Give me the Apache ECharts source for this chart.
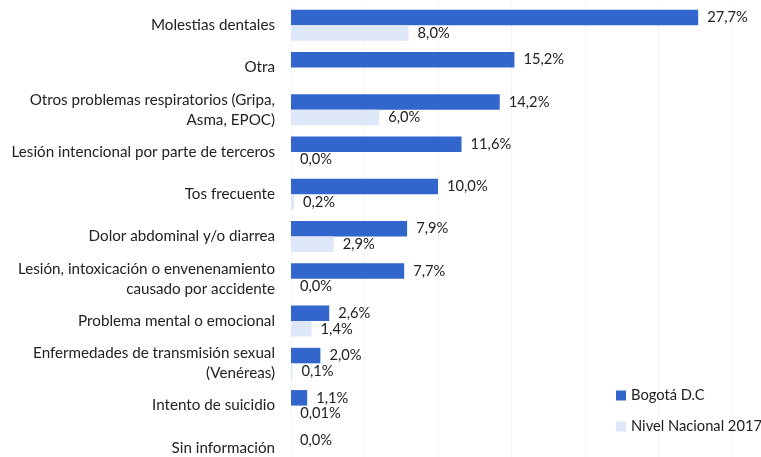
<!DOCTYPE html>
<html><head><meta charset="utf-8">
<script src="https://cdn.jsdelivr.net/npm/echarts@6/dist/echarts.min.js"></script>
<style>html,body{margin:0;padding:0;background:#fff}#c{width:761px;height:457px}</style>
</head><body><div id="c"></div>
<script>
var categories = [
  'Molestias dentales',
  'Otra',
  'Otros problemas respiratorios (Gripa,\nAsma, EPOC)',
  'Lesión intencional por parte de terceros',
  'Tos frecuente',
  'Dolor abdominal y/o diarrea',
  'Lesión, intoxicación o envenenamiento\ncausado por accidente',
  'Problema mental o emocional',
  'Enfermedades de transmisión sexual\n(Venéreas)',
  'Intento de suicidio',
  'Sin información'
];
var bogota = [27.7, 15.2, 14.2, 11.6, 10.0, 7.9, 7.7, 2.6, 2.0, 1.1, 0.0];
var nacional = [8.0, null, 6.0, 0.0, 0.2, 2.9, 0.0, 1.4, 0.1, 0.01, null];
var seriesNames = ['Bogotá D.C', 'Nivel Nacional 2017'];

function fmt(p) {
  var v = p.value;
  if (v === null || v === undefined) return '';
  var d = (v > 0 && v < 0.1) ? 2 : 1;
  return v.toFixed(d).replace('.', ',') + '%';
}
var FONT = 'Lato';
var chart = echarts.init(document.getElementById('c'));
chart.setOption({
  animation: false,
  textStyle: { fontFamily: FONT },
  grid: { left: 291, width: 441, top: 4, height: 465, containLabel: false, outerBoundsMode: 'none' },
  xAxis: {
    type: 'value', min: 0, max: 30, interval: 5,
    axisLabel: { show: false }, axisLine: { show: false }, axisTick: { show: false },
    splitLine: { show: true, lineStyle: { color: '#f4f4f4', width: 1 } }
  },
  yAxis: {
    type: 'category', data: categories, inverse: true,
    axisLine: { show: false }, axisTick: { show: false },
    axisLabel: { margin: 16, fontFamily: FONT, fontSize: 15.2, color: '#222', lineHeight: 20, align: 'right' }
  },
  legend: {
    orient: 'vertical', left: 611, top: 383, itemWidth: 10, itemHeight: 10, itemGap: 16,
    icon: 'rect',
    textStyle: { fontFamily: FONT, fontSize: 14.7, color: '#222' },
    data: seriesNames
  },
  series: [
    { name: seriesNames[0], type: 'bar', data: bogota, barWidth: 15.5, barGap: '0%',
      itemStyle: { color: '#3366cc' },
      label: { show: true, position: 'right', distance: 9, formatter: fmt, fontFamily: FONT, fontSize: 14.7, color: '#222' } },
    { name: seriesNames[1], type: 'bar', data: nacional, barWidth: 15.5, barGap: '0%',
      itemStyle: { color: '#dde7f8' },
      label: { show: true, position: 'right', distance: 9, formatter: fmt, fontFamily: FONT, fontSize: 14.7, color: '#222' } }
  ]
});
</script></body></html>
